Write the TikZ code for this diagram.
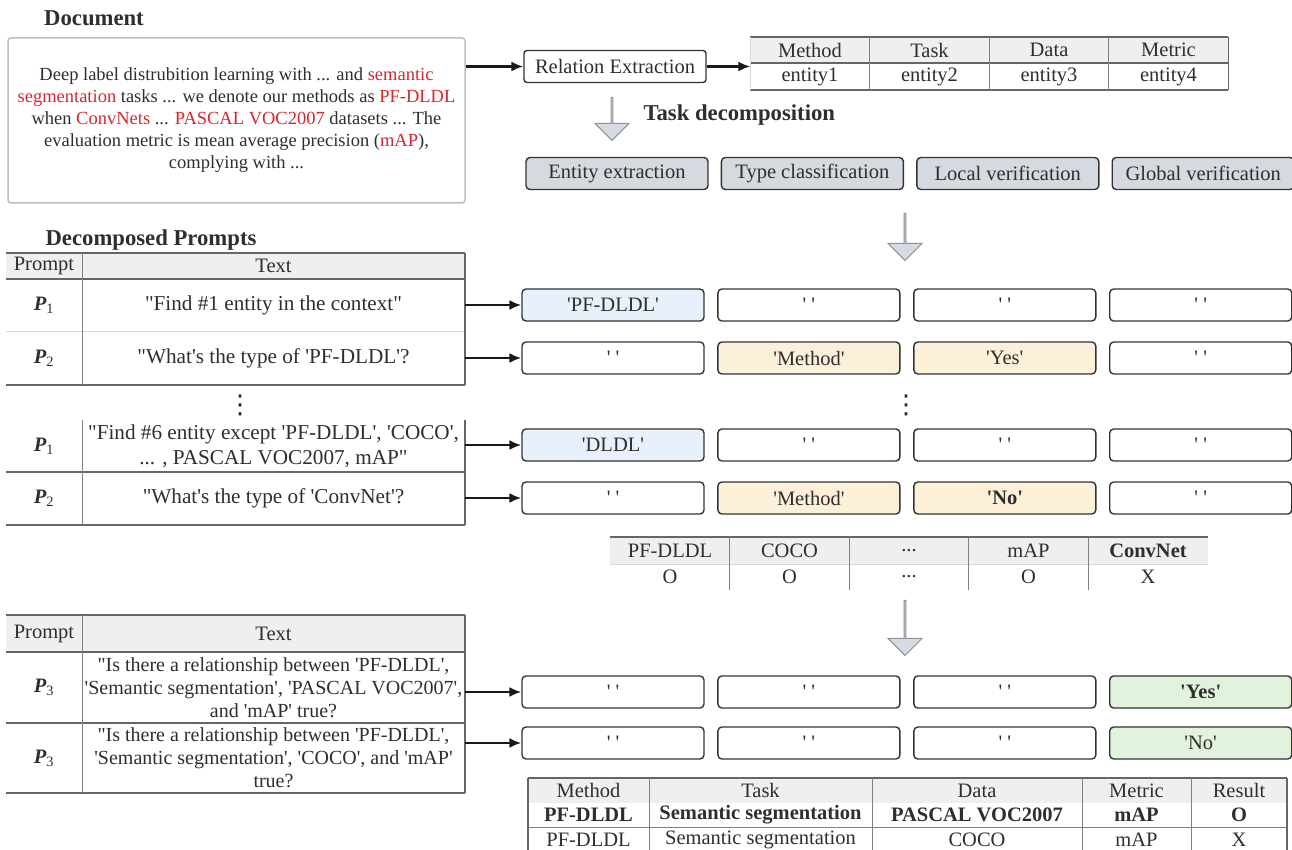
\documentclass[tikz,border=0pt]{standalone}
\usepackage{fontspec}
\setmainfont{Liberation Serif}[Ligatures=TeXOff]
\newfontfamily\symfont{DejaVu Sans}
\usepackage{xcolor}
\usetikzlibrary{positioning, arrows.meta, shapes.arrows}

\definecolor{txt}{HTML}{2E2E2E}
\definecolor{hl}{HTML}{D7262E}
\definecolor{hdr}{HTML}{EFEFEF}
\definecolor{taskfill}{HTML}{D5D9E0}
\definecolor{bluefill}{HTML}{E8F1FB}
\definecolor{orgfill}{HTML}{FCF0D8}
\definecolor{grnfill}{HTML}{E1F3DC}
\definecolor{arrfill}{HTML}{D6DAE2}
\definecolor{arrline}{HTML}{8C9199}

\tikzset{
    >={Latex[length=12pt, width=10pt]},         % filled arrow heads
    node distance=12.5pt,                       % gap between neighbouring boxes
    every node/.append style={text=txt, font=\fontsize{20.5}{23}\selectfont},
    box/.style={draw=black!80, line width=1.4pt, rounded corners=4pt,
        minimum width=182pt, minimum height=32pt, inner sep=0pt},
    task/.style={box, fill=taskfill},           % the four sub-tasks
    ent/.style={box, fill=bluefill},            % entity answers
    typ/.style={box, fill=orgfill},             % type / local answers
    glo/.style={box, fill=grnfill},             % global answers
    doc/.style={draw=black!25, line width=1.5pt, rounded corners=3pt,
        minimum width=457pt, minimum height=165pt, align=center,
        font=\fontsize{18.5}{22}\selectfont},
    cell/.style={inner sep=0pt, outer sep=0pt, align=center},
    pc/.style={cell, minimum width=76pt},       % prompt column
    tc/.style={cell, minimum width=383pt, font=\fontsize{21.2}{25}\selectfont}, % text column
    ec/.style={cell, minimum width=119.5pt},    % entity table column
    rule/.style={draw=black!60, line width=1.3pt},
    sep/.style={draw=black!50, line width=1pt},
    faint/.style={draw=black!15, line width=1pt},
    link/.style={->, line width=2.2pt, black!90},
    bigarrow/.style={single arrow, shape border rotate=270, draw=arrline,
        fill=arrfill, line width=1pt, minimum width=34pt,
        single arrow head extend=9pt, inner sep=0pt},
    title/.style={font=\fontsize{22.7}{25}\selectfont\bfseries},
    dots/.style={font=\symfont\fontsize{26}{28}\selectfont, text=black!85},
}
\newcommand{\hlt}[1]{\textcolor{hl}{#1}}
\newcommand{\prm}[1]{\textbf{\textit{P}}\textsubscript{#1}}
\newcommand{\none}{' '}

\begin{document}
\begin{tikzpicture}[x=1pt, y=-1pt]
\useasboundingbox (0,0) rectangle (1292,850);

% document and relation extraction
\node[title] (ttl1) at (94,18) {Document};
\node[doc] (doc) at (236.5,120.5) {Deep label distrubition learning with ... and \hlt{semantic}\\
\hlt{segmentation} tasks ... we denote our methods as \hlt{PF-DLDL}\\
when \hlt{ConvNets} ... \hlt{PASCAL VOC2007} datasets ... The\\
evaluation metric is mean average precision (\hlt{mAP}),\\
complying with ...};
\node[box, rounded corners=3pt] (rel) at (615,66.5) {Relation Extraction};

\node[ec, fill=hdr, minimum height=26pt] (h1) at (810,50) {Method};
\node[ec, fill=hdr, minimum height=26pt, right=0pt of h1] (h2) {Task};
\node[ec, fill=hdr, minimum height=26pt, right=0pt of h2] (h3) {Data};
\node[ec, fill=hdr, minimum height=26pt, right=0pt of h3] (h4) {Metric};
\node[ec, minimum height=27pt, below=0pt of h1] (e1) {entity1};
\node[ec, minimum height=27pt, below=0pt of h2] (e2) {entity2};
\node[ec, minimum height=27pt, below=0pt of h3] (e3) {entity3};
\node[ec, minimum height=27pt, below=0pt of h4] (e4) {entity4};
\draw[rule] (h1.north west) -- (h4.north east);
\draw[rule] (h1.south west) -- (h4.south east);
\draw[rule] (e1.south west) -- (e4.south east);
\draw[faint] (h1.north west) -- (e1.south west);
\draw[sep] (h1.north east) -- (e1.south east);
\draw[sep] (h2.north east) -- (e2.south east);
\draw[sep] (h3.north east) -- (e3.south east);
\draw[rule] (h4.north east) -- (e4.south east);

% task decomposition
\node[bigarrow, minimum height=43pt] (dec) at (612,118.5) {};
\node[title, anchor=west] (ttl2) at (640,115) {Task decomposition};
\node[task] (s1) at (617,173.5) {Entity extraction};
\node[task, right=12pt of s1] (s2) {Type classification};
\node[task, right=12pt of s2] (s3) {Local verification};
\node[task, right=12pt of s3] (s4) {Global verification};
\node[bigarrow, minimum height=47pt] (ar2) at (905,236.5) {};

% decomposed prompts
\node[title] (ttl3) at (151,240) {Decomposed Prompts};
\node[pc, fill=hdr, minimum height=26pt] (p0) at (44,266) {Prompt};
\node[tc, fill=hdr, minimum height=26pt, right=0pt of p0, font=\fontsize{20.5}{23}\selectfont] (x0) {Text};
\node[pc, minimum height=52pt, below=0pt of p0] (p1) {\prm{1}};
\node[tc, minimum height=52pt, right=0pt of p1] (x1) {"Find \#1 entity in the context"};
\node[pc, minimum height=54pt, below=0pt of p1] (p2) {\prm{2}};
\node[tc, minimum height=54pt, right=0pt of p2] (x2) {"What's the type of 'PF-DLDL'?};
\draw[rule] (p0.north west) -- (x0.north east);
\draw[rule] (p0.south west) -- (x0.south east);
\draw[faint] (p1.south west) -- (x1.south east);
\draw[rule] (p2.south west) -- (x2.south east);
\draw[sep] (x0.north west) -- (x2.south west);
\draw[rule] (x0.north east) -- (x2.south east);

\node[dots] (vd1) at (240,405) {⋮};

\node[pc, minimum height=52pt] (p3) at (44,446) {\prm{1}};
\node[tc, minimum height=52pt, right=0pt of p3] (x3) {"Find \#6 entity except 'PF-DLDL', 'COCO',\\... , PASCAL VOC2007, mAP"};
\node[pc, minimum height=53pt, below=0pt of p3] (p4) {\prm{2}};
\node[tc, minimum height=53pt, right=0pt of p4] (x4) {"What's the type of 'ConvNet'?};
\draw[rule] (p3.south west) -- (x3.south east);
\draw[rule] (p4.south west) -- (x4.south east);
\draw[sep] (x3.north west) -- (x4.south west);
\draw[rule] (x3.north east) -- (x4.south east);

% answers of the first two sub-tasks
\node[ent] (a11) at (613,305) {'PF-DLDL'};
\node[box, right=of a11] (a12) {\none};
\node[box, right=of a12] (a13) {\none};
\node[box, right=of a13] (a14) {\none};
\node[box] (a21) at (613,358) {\none};
\node[typ, right=of a21] (a22) {'Method'};
\node[typ, right=of a22] (a23) {'Yes'};
\node[box, right=of a23] (a24) {\none};

\node[dots] (vd2) at (906,405) {⋮};

\node[ent] (a31) at (613,445) {'DLDL'};
\node[box, right=of a31] (a32) {\none};
\node[box, right=of a32] (a33) {\none};
\node[box, right=of a33] (a34) {\none};
\node[box] (a41) at (613,498) {\none};
\node[typ, right=of a41] (a42) {'Method'};
\node[typ, right=of a42] (a43) {\textbf{'No'}};
\node[box, right=of a43] (a44) {\none};

% local verification results
\node[ec, fill=hdr, minimum height=27pt] (c1) at (670,550.5) {PF-DLDL};
\node[ec, fill=hdr, minimum height=27pt, right=0pt of c1] (c2) {COCO};
\node[ec, fill=hdr, minimum height=27pt, right=0pt of c2] (c3) {...};
\node[ec, fill=hdr, minimum height=27pt, right=0pt of c3] (c4) {mAP};
\node[ec, fill=hdr, minimum height=27pt, right=0pt of c4] (c5) {\textbf{ConvNet}};
\node[ec, minimum height=26pt, below=0pt of c1] (o1) {O};
\node[ec, minimum height=26pt, below=0pt of c2] (o2) {O};
\node[ec, minimum height=26pt, below=0pt of c3] (o3) {...};
\node[ec, minimum height=26pt, below=0pt of c4] (o4) {O};
\node[ec, minimum height=26pt, below=0pt of c5] (o5) {X};
\draw[rule] (c1.north west) -- (c5.north east);
\draw[faint] (c1.south west) -- (c5.south east);
\draw[sep] (c1.north east) -- (o1.south east);
\draw[sep] (c2.north east) -- (o2.south east);
\draw[sep] (c3.north east) -- (o3.south east);
\draw[sep] (c4.north east) -- (o4.south east);

\node[bigarrow, minimum height=55pt] (ar3) at (905,627.5) {};

% global verification prompts
\node[pc, fill=hdr, minimum height=37pt] (p5) at (44,633.5) {Prompt};
\node[tc, fill=hdr, minimum height=37pt, right=0pt of p5, font=\fontsize{20.5}{23}\selectfont] (x5) {Text};
\node[pc, minimum height=71pt, below=0pt of p5] (p6) {\prm{3}};
\node[tc, minimum height=71pt, right=0pt of p6, font=\fontsize{20}{23}\selectfont] (x6) {"Is there a relationship between 'PF-DLDL',\\'Semantic segmentation', 'PASCAL VOC2007',\\and 'mAP' true?};
\node[pc, minimum height=70pt, below=0pt of p6] (p7) {\prm{3}};
\node[tc, minimum height=70pt, right=0pt of p7, font=\fontsize{20}{23}\selectfont] (x7) {"Is there a relationship between 'PF-DLDL',\\'Semantic segmentation', 'COCO', and 'mAP'\\true?};
\draw[rule] (p5.north west) -- (x5.north east);
\draw[rule] (p5.south west) -- (x5.south east);
\draw[rule] (p6.south west) -- (x6.south east);
\draw[rule] (p7.south west) -- (x7.south east);
\draw[sep] (x5.north west) -- (x7.south west);
\draw[rule] (x5.north east) -- (x7.south east);

\node[box] (a51) at (613,692) {\none};
\node[box, right=of a51] (a52) {\none};
\node[box, right=of a52] (a53) {\none};
\node[glo, right=of a53] (a54) {\textbf{'Yes'}};
\node[box] (a61) at (613,743) {\none};
\node[box, right=of a61] (a62) {\none};
\node[box, right=of a62] (a63) {\none};
\node[glo, right=of a63] (a64) {'No'};

% final relations
\node[cell, fill=hdr, minimum width=121pt, minimum height=25pt] (b1) at (588.5,790.5) {Method};
\node[cell, fill=hdr, minimum width=223pt, minimum height=25pt, right=0pt of b1] (b2) {Task};
\node[cell, fill=hdr, minimum width=210pt, minimum height=25pt, right=0pt of b2] (b3) {Data};
\node[cell, fill=hdr, minimum width=109pt, minimum height=25pt, right=0pt of b3] (b4) {Metric};
\node[cell, fill=hdr, minimum width=96pt, minimum height=25pt, right=0pt of b4] (b5) {Result};
\node[cell, minimum width=121pt, minimum height=24pt, below=0pt of b1] (r1) {\textbf{PF-DLDL}};
\node[cell, minimum width=223pt, minimum height=24pt, below=0pt of b2] (r2) {\textbf{Semantic segmentation}};
\node[cell, minimum width=210pt, minimum height=24pt, below=0pt of b3] (r3) {\textbf{PASCAL VOC2007}};
\node[cell, minimum width=109pt, minimum height=24pt, below=0pt of b4] (r4) {\textbf{mAP}};
\node[cell, minimum width=96pt, minimum height=24pt, below=0pt of b5] (r5) {\textbf{O}};
\node[cell, minimum width=121pt, minimum height=25pt, below=0pt of r1] (t1) {PF-DLDL};
\node[cell, minimum width=223pt, minimum height=25pt, below=0pt of r2] (t2) {Semantic segmentation};
\node[cell, minimum width=210pt, minimum height=25pt, below=0pt of r3] (t3) {COCO};
\node[cell, minimum width=109pt, minimum height=25pt, below=0pt of r4] (t4) {mAP};
\node[cell, minimum width=96pt, minimum height=25pt, below=0pt of r5] (t5) {X};
\draw[rule] (b1.north west) -- (b5.north east);
\draw[sep] (r1.south west) -- (r5.south east);
\draw[rule] (b1.north west) -- (t1.south west);
\draw[sep] (b1.north east) -- (t1.south east);
\draw[sep] (b2.north east) -- (t2.south east);
\draw[sep] (b3.north east) -- (t3.south east);
\draw[sep] (b4.north east) -- (t4.south east);
\draw[rule] (b5.north east) -- (t5.south east);

% connectors
\draw[link] (doc.east |- rel.west) -- (rel.west);
\draw[link] (rel.east) -- (rel.east -| e1.west);
\draw[link] (x1.east) -- (a11.west);
\draw[link] (x2.east) -- (a21.west);
\draw[link] (x3.east |- a31.west) -- (a31.west);
\draw[link] (x4.east |- a41.west) -- (a41.west);
\draw[link] (x6.east |- a51.west) -- (a51.west);
\draw[link] (x7.east |- a61.west) -- (a61.west);

\end{tikzpicture}
\end{document}
